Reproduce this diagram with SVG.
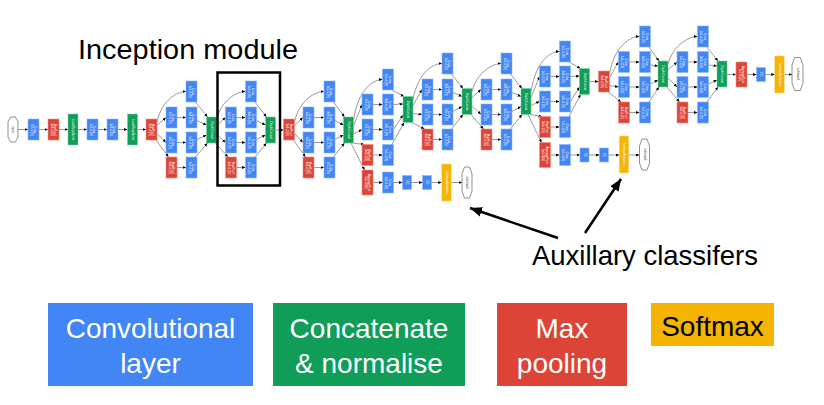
<svg xmlns="http://www.w3.org/2000/svg" width="824" height="405" viewBox="0 0 824 405">
<style>
.conv{fill:#4285F4;stroke:#8AB4F8;stroke-width:0.6}
.pool{fill:#DB4437;stroke:#EE8E85;stroke-width:0.6}
.cat{fill:#0F9D58;stroke:#7BCFA3;stroke-width:0.6}
.sm{fill:#F4B400;stroke:#FADB7F;stroke-width:0.6}
.oct{fill:#fff;stroke:#444;stroke-width:0.6}
.t{font-family:"Liberation Sans",Arial,sans-serif;font-size:3px;fill:#fff;text-anchor:middle}
.tb{font-family:"Liberation Sans",Arial,sans-serif;font-size:3px;fill:#333;text-anchor:middle}
.e{fill:none;stroke:#555;stroke-width:0.6;marker-end:url(#ah)}
.big{fill:none;stroke:#000;stroke-width:2.5;marker-end:url(#bh)}
.lab{font-family:"Liberation Sans",Arial,sans-serif;font-size:28px;fill:#000}
.leg{font-family:"Liberation Sans",Arial,sans-serif;font-size:28px;fill:#fff;text-anchor:middle}
</style>
<defs>
<marker id="ah" markerUnits="userSpaceOnUse" markerWidth="4" markerHeight="4" refX="3.5" refY="1.5" orient="auto"><path d="M0,0 L3.5,1.5 L0,3 z" fill="#000"/></marker>
<marker id="bh" markerUnits="userSpaceOnUse" markerWidth="14" markerHeight="12" refX="12" refY="5" orient="auto"><path d="M0,0 L12,5 L0,10 z" fill="#000"/></marker>
</defs>
<rect width="824" height="405" fill="#fff"/>

<g id="connectors">
<path class="e" d="M18,129.5 L28,129.5"/>
<path class="e" d="M39,129.5 L48,129.5"/>
<path class="e" d="M59,129.5 L68,129.5"/>
<path class="e" d="M78,129.5 L87,129.5"/>
<path class="e" d="M98,129.5 L107,129.5"/>
<path class="e" d="M118,129.5 L127.5,129.5"/>
<path class="e" d="M137.5,129.5 L146,129.5"/>
<path class="e" d="M157,122 C162,99.5 177.5,91.5 186,91.5"/>
<path class="e" d="M157,125.5 L166,117.5"/>
<path class="e" d="M157,133.5 L166,142.5"/>
<path class="e" d="M156,140 L168.5,157"/>
<path class="e" d="M177,117.5 L186,117.5"/>
<path class="e" d="M177,142.5 L186,142.5"/>
<path class="e" d="M177,167.5 L186,167.5"/>
<path class="e" d="M195.5,102 L207.5,117"/>
<path class="e" d="M197,120.5 L206.5,125"/>
<path class="e" d="M197,139.5 L206.5,135"/>
<path class="e" d="M195.5,157 L207.5,143"/>
<path class="e" d="M216.5,120 C221.5,99.5 237,91.5 245.5,91.5"/>
<path class="e" d="M216.5,126 L225.5,117.5"/>
<path class="e" d="M216.5,134 L225.5,142.5"/>
<path class="e" d="M215.5,143 L228,157"/>
<path class="e" d="M236.5,117.5 L245.5,117.5"/>
<path class="e" d="M236.5,142.5 L245.5,142.5"/>
<path class="e" d="M236.5,167.5 L245.5,167.5"/>
<path class="e" d="M255,102 L266.5,117"/>
<path class="e" d="M256.5,120.5 L265.5,125"/>
<path class="e" d="M256.5,139.5 L265.5,135"/>
<path class="e" d="M255,157 L266.5,143"/>
<path class="e" d="M275.5,130 L283.5,130"/>
<path class="e" d="M294.5,122 C299.5,99.5 315.5,91.5 324,91.5"/>
<path class="e" d="M294.5,125.5 L303,117.5"/>
<path class="e" d="M294.5,133.5 L303,142.5"/>
<path class="e" d="M293.5,140 L305.5,157"/>
<path class="e" d="M314,117.5 L324,117.5"/>
<path class="e" d="M314,142.5 L324,142.5"/>
<path class="e" d="M314,167.5 L324,167.5"/>
<path class="e" d="M333.5,102 L344.5,117"/>
<path class="e" d="M335,120.5 L343.5,125"/>
<path class="e" d="M335,139.5 L343.5,135"/>
<path class="e" d="M333.5,157 L344.5,143"/>
<path class="e" d="M353.5,120 C358.5,88 374,79.5 382.5,79.5"/>
<path class="e" d="M353.5,126 L362,104.5"/>
<path class="e" d="M353.5,134 L362,129.5"/>
<path class="e" d="M352.5,143 L364.5,144.5"/>
<path class="e" d="M373,104.5 L382.5,104.5"/>
<path class="e" d="M373,129.5 L382.5,129.5"/>
<path class="e" d="M373,155 L382.5,155"/>
<path class="e" d="M392,90 L404,96.5"/>
<path class="e" d="M393.5,104.5 L403,104"/>
<path class="e" d="M393.5,129.5 L403,115"/>
<path class="e" d="M392,144.5 L404,122.5"/>
<path class="e" d="M351,143 L364.5,170"/>
<path class="e" d="M373,182.5 L382.5,182.5"/>
<path class="e" d="M393.5,182.5 L402.5,182.5"/>
<path class="e" d="M411.5,182.5 L422.5,182.5"/>
<path class="e" d="M431.5,182.5 L441.75,182.5"/>
<path class="e" d="M451.25,182.5 L462,182.5"/>
<path class="e" d="M413,99.5 C418,72 433.5,63.5 442,63.5"/>
<path class="e" d="M413,105.5 L422,89.5"/>
<path class="e" d="M413,113.5 L422,114.5"/>
<path class="e" d="M412,122.5 L424.5,129"/>
<path class="e" d="M433,89.5 L442,89.5"/>
<path class="e" d="M433,114.5 L442,114.5"/>
<path class="e" d="M433,139.5 L442,139.5"/>
<path class="e" d="M451.5,74 L463,88.5"/>
<path class="e" d="M453,92.5 L462,96.5"/>
<path class="e" d="M453,111.5 L462,106.5"/>
<path class="e" d="M451.5,129 L463,114.5"/>
<path class="e" d="M472,91.5 C477,72 492.5,63.5 501,63.5"/>
<path class="e" d="M472,97.5 L481,89.5"/>
<path class="e" d="M472,105.5 L481,114.5"/>
<path class="e" d="M471,114.5 L483.5,129"/>
<path class="e" d="M492,89.5 L501,89.5"/>
<path class="e" d="M492,114.5 L501,114.5"/>
<path class="e" d="M492,139.5 L501,139.5"/>
<path class="e" d="M510.5,74 L522,88.5"/>
<path class="e" d="M512,92.5 L521,96.5"/>
<path class="e" d="M512,111.5 L521,106.5"/>
<path class="e" d="M510.5,129 L522,114.5"/>
<path class="e" d="M531,91.5 C536,60 551,51.5 559.5,51.5"/>
<path class="e" d="M531,97.5 L539.5,76.5"/>
<path class="e" d="M531,105.5 L539.5,101.5"/>
<path class="e" d="M530,114.5 L542,116.5"/>
<path class="e" d="M550.5,76.5 L559.5,76.5"/>
<path class="e" d="M550.5,101.5 L559.5,101.5"/>
<path class="e" d="M550.5,127 L559.5,127"/>
<path class="e" d="M569,62 L580.5,68.5"/>
<path class="e" d="M570.5,76.5 L579.5,76"/>
<path class="e" d="M570.5,101.5 L579.5,87"/>
<path class="e" d="M569,116.5 L580.5,94.5"/>
<path class="e" d="M528,114.5 L541.5,142.5"/>
<path class="e" d="M550.5,155 L559.5,155"/>
<path class="e" d="M570.5,155 L580,155"/>
<path class="e" d="M589,155 L599.5,155"/>
<path class="e" d="M608.5,155 L619.25,155"/>
<path class="e" d="M628.75,155 L639.5,155"/>
<path class="e" d="M589.5,81.5 L598.5,81.5"/>
<path class="e" d="M609.5,74 C614.5,45 631,36.5 639.5,36.5"/>
<path class="e" d="M609.5,77.5 L618.5,62"/>
<path class="e" d="M609.5,85.5 L618.5,87"/>
<path class="e" d="M608.5,92 L621,102"/>
<path class="e" d="M629.5,62 L639.5,62"/>
<path class="e" d="M629.5,87 L639.5,87"/>
<path class="e" d="M629.5,112.5 L639.5,112.5"/>
<path class="e" d="M649,47 L659,61"/>
<path class="e" d="M650.5,65 L658,66"/>
<path class="e" d="M650.5,84 L658,80"/>
<path class="e" d="M649,102 L659,87"/>
<path class="e" d="M668,64 C673,45 689,36.5 697.5,36.5"/>
<path class="e" d="M668,70 L677,62"/>
<path class="e" d="M668,78 L677,87"/>
<path class="e" d="M667,87 L679.5,102"/>
<path class="e" d="M688,62 L697.5,62"/>
<path class="e" d="M688,87 L697.5,87"/>
<path class="e" d="M688,112.5 L697.5,112.5"/>
<path class="e" d="M707,47 L718,61"/>
<path class="e" d="M708.5,65 L717,66"/>
<path class="e" d="M708.5,84 L717,80"/>
<path class="e" d="M707,102 L718,87"/>
<path class="e" d="M727,74.5 L736,74.5"/>
<path class="e" d="M747,74.5 L756.5,74.5"/>
<path class="e" d="M765.5,74.5 L774.75,74.5"/>
<path class="e" d="M784.25,74.5 L792,74.5"/>
<path class="big" d="M558,238 L470,208"/>
<path class="big" d="M585,233 L621,179"/>
</g>

<g id="input"><polygon class="oct" points="10.5,117 15.5,117 18,122 18,137 15.5,142 10.5,142 8,137 8,122"/><text class="tb" transform="translate(13,129.5) rotate(90)" y="1">input</text></g>
<g id="conv1"><rect class="conv" x="28" y="119" width="11" height="21"/><text class="t" transform="translate(33.5,129.5) rotate(90)"><tspan x="0" y="-0.6">Conv</tspan><tspan x="0" y="2.8">7x7+2(S)</tspan></text></g>
<g id="pool1"><rect class="pool" x="48" y="119" width="11" height="21"/><text class="t" transform="translate(53.5,129.5) rotate(90)"><tspan x="0" y="-0.6">MaxPool</tspan><tspan x="0" y="2.8">3x3+2(S)</tspan></text></g>
<g id="lrn1"><rect class="cat" x="68" y="114" width="10" height="31"/><text class="t" transform="translate(73,129.5) rotate(90)" y="1">LocalRespNorm</text></g>
<g id="conv2a"><rect class="conv" x="87" y="119" width="11" height="21"/><text class="t" transform="translate(92.5,129.5) rotate(90)"><tspan x="0" y="-0.6">Conv</tspan><tspan x="0" y="2.8">1x1+1(V)</tspan></text></g>
<g id="conv2b"><rect class="conv" x="107" y="119" width="11" height="21"/><text class="t" transform="translate(112.5,129.5) rotate(90)"><tspan x="0" y="-0.6">Conv</tspan><tspan x="0" y="2.8">3x3+1(S)</tspan></text></g>
<g id="lrn2"><rect class="cat" x="127.5" y="114" width="10" height="31"/><text class="t" transform="translate(132.5,129.5) rotate(90)" y="1">LocalRespNorm</text></g>
<g id="pool2"><rect class="pool" x="146" y="119" width="11" height="21"/><text class="t" transform="translate(151.5,129.5) rotate(90)"><tspan x="0" y="-0.6">MaxPool</tspan><tspan x="0" y="2.8">3x3+2(S)</tspan></text></g>

<g id="i3a_1x1"><rect class="conv" x="186" y="81" width="11" height="21"/><text class="t" transform="translate(191.5,91.5) rotate(90)"><tspan x="0" y="-0.6">Conv</tspan><tspan x="0" y="2.8">1x1+1(S)</tspan></text></g>
<g id="i3a_3r"><rect class="conv" x="166" y="107" width="11" height="21"/><text class="t" transform="translate(171.5,117.5) rotate(90)"><tspan x="0" y="-0.6">Conv</tspan><tspan x="0" y="2.8">1x1+1(S)</tspan></text></g>
<g id="i3a_3"><rect class="conv" x="186" y="107" width="11" height="21"/><text class="t" transform="translate(191.5,117.5) rotate(90)"><tspan x="0" y="-0.6">Conv</tspan><tspan x="0" y="2.8">3x3+1(S)</tspan></text></g>
<g id="i3a_5r"><rect class="conv" x="166" y="132" width="11" height="21"/><text class="t" transform="translate(171.5,142.5) rotate(90)"><tspan x="0" y="-0.6">Conv</tspan><tspan x="0" y="2.8">1x1+1(S)</tspan></text></g>
<g id="i3a_5"><rect class="conv" x="186" y="132" width="11" height="21"/><text class="t" transform="translate(191.5,142.5) rotate(90)"><tspan x="0" y="-0.6">Conv</tspan><tspan x="0" y="2.8">5x5+1(S)</tspan></text></g>
<g id="i3a_pool"><rect class="pool" x="166" y="157" width="11" height="21"/><text class="t" transform="translate(171.5,167.5) rotate(90)"><tspan x="0" y="-0.6">MaxPool</tspan><tspan x="0" y="2.8">3x3+1(S)</tspan></text></g>
<g id="i3a_pp"><rect class="conv" x="186" y="157" width="11" height="21"/><text class="t" transform="translate(191.5,167.5) rotate(90)"><tspan x="0" y="-0.6">Conv</tspan><tspan x="0" y="2.8">1x1+1(S)</tspan></text></g>
<g id="i3a_cat"><rect class="cat" x="206.5" y="117" width="10" height="26"/><text class="t" transform="translate(211.5,130) rotate(90)" y="1">DepthConcat</text></g>

<g id="i3b_1x1"><rect class="conv" x="245.5" y="81" width="11" height="21"/><text class="t" transform="translate(251,91.5) rotate(90)"><tspan x="0" y="-0.6">Conv</tspan><tspan x="0" y="2.8">1x1+1(S)</tspan></text></g>
<g id="i3b_3r"><rect class="conv" x="225.5" y="107" width="11" height="21"/><text class="t" transform="translate(231,117.5) rotate(90)"><tspan x="0" y="-0.6">Conv</tspan><tspan x="0" y="2.8">1x1+1(S)</tspan></text></g>
<g id="i3b_3"><rect class="conv" x="245.5" y="107" width="11" height="21"/><text class="t" transform="translate(251,117.5) rotate(90)"><tspan x="0" y="-0.6">Conv</tspan><tspan x="0" y="2.8">3x3+1(S)</tspan></text></g>
<g id="i3b_5r"><rect class="conv" x="225.5" y="132" width="11" height="21"/><text class="t" transform="translate(231,142.5) rotate(90)"><tspan x="0" y="-0.6">Conv</tspan><tspan x="0" y="2.8">1x1+1(S)</tspan></text></g>
<g id="i3b_5"><rect class="conv" x="245.5" y="132" width="11" height="21"/><text class="t" transform="translate(251,142.5) rotate(90)"><tspan x="0" y="-0.6">Conv</tspan><tspan x="0" y="2.8">5x5+1(S)</tspan></text></g>
<g id="i3b_pool"><rect class="pool" x="225.5" y="157" width="11" height="21"/><text class="t" transform="translate(231,167.5) rotate(90)"><tspan x="0" y="-0.6">MaxPool</tspan><tspan x="0" y="2.8">3x3+1(S)</tspan></text></g>
<g id="i3b_pp"><rect class="conv" x="245.5" y="157" width="11" height="21"/><text class="t" transform="translate(251,167.5) rotate(90)"><tspan x="0" y="-0.6">Conv</tspan><tspan x="0" y="2.8">1x1+1(S)</tspan></text></g>
<g id="i3b_cat"><rect class="cat" x="265.5" y="117" width="10" height="26"/><text class="t" transform="translate(270.5,130) rotate(90)" y="1">DepthConcat</text></g>
<g id="pool3"><rect class="pool" x="283.5" y="119" width="11" height="21"/><text class="t" transform="translate(289,129.5) rotate(90)"><tspan x="0" y="-0.6">MaxPool</tspan><tspan x="0" y="2.8">3x3+2(S)</tspan></text></g>

<g id="i4a_1x1"><rect class="conv" x="324" y="81" width="11" height="21"/><text class="t" transform="translate(329.5,91.5) rotate(90)"><tspan x="0" y="-0.6">Conv</tspan><tspan x="0" y="2.8">1x1+1(S)</tspan></text></g>
<g id="i4a_3r"><rect class="conv" x="303" y="107" width="11" height="21"/><text class="t" transform="translate(308.5,117.5) rotate(90)"><tspan x="0" y="-0.6">Conv</tspan><tspan x="0" y="2.8">1x1+1(S)</tspan></text></g>
<g id="i4a_3"><rect class="conv" x="324" y="107" width="11" height="21"/><text class="t" transform="translate(329.5,117.5) rotate(90)"><tspan x="0" y="-0.6">Conv</tspan><tspan x="0" y="2.8">3x3+1(S)</tspan></text></g>
<g id="i4a_5r"><rect class="conv" x="303" y="132" width="11" height="21"/><text class="t" transform="translate(308.5,142.5) rotate(90)"><tspan x="0" y="-0.6">Conv</tspan><tspan x="0" y="2.8">1x1+1(S)</tspan></text></g>
<g id="i4a_5"><rect class="conv" x="324" y="132" width="11" height="21"/><text class="t" transform="translate(329.5,142.5) rotate(90)"><tspan x="0" y="-0.6">Conv</tspan><tspan x="0" y="2.8">5x5+1(S)</tspan></text></g>
<g id="i4a_pool"><rect class="pool" x="303" y="157" width="11" height="21"/><text class="t" transform="translate(308.5,167.5) rotate(90)"><tspan x="0" y="-0.6">MaxPool</tspan><tspan x="0" y="2.8">3x3+1(S)</tspan></text></g>
<g id="i4a_pp"><rect class="conv" x="324" y="157" width="11" height="21"/><text class="t" transform="translate(329.5,167.5) rotate(90)"><tspan x="0" y="-0.6">Conv</tspan><tspan x="0" y="2.8">1x1+1(S)</tspan></text></g>
<g id="i4a_cat"><rect class="cat" x="343.5" y="117" width="10" height="26"/><text class="t" transform="translate(348.5,130) rotate(90)" y="1">DepthConcat</text></g>

<g id="i4b_1x1"><rect class="conv" x="382.5" y="69" width="11" height="21"/><text class="t" transform="translate(388,79.5) rotate(90)"><tspan x="0" y="-0.6">Conv</tspan><tspan x="0" y="2.8">1x1+1(S)</tspan></text></g>
<g id="i4b_3r"><rect class="conv" x="362" y="94" width="11" height="21"/><text class="t" transform="translate(367.5,104.5) rotate(90)"><tspan x="0" y="-0.6">Conv</tspan><tspan x="0" y="2.8">1x1+1(S)</tspan></text></g>
<g id="i4b_3"><rect class="conv" x="382.5" y="94" width="11" height="21"/><text class="t" transform="translate(388,104.5) rotate(90)"><tspan x="0" y="-0.6">Conv</tspan><tspan x="0" y="2.8">3x3+1(S)</tspan></text></g>
<g id="i4b_5r"><rect class="conv" x="362" y="119" width="11" height="21"/><text class="t" transform="translate(367.5,129.5) rotate(90)"><tspan x="0" y="-0.6">Conv</tspan><tspan x="0" y="2.8">1x1+1(S)</tspan></text></g>
<g id="i4b_5"><rect class="conv" x="382.5" y="119" width="11" height="21"/><text class="t" transform="translate(388,129.5) rotate(90)"><tspan x="0" y="-0.6">Conv</tspan><tspan x="0" y="2.8">5x5+1(S)</tspan></text></g>
<g id="i4b_pool"><rect class="pool" x="362" y="144.5" width="11" height="21"/><text class="t" transform="translate(367.5,155) rotate(90)"><tspan x="0" y="-0.6">MaxPool</tspan><tspan x="0" y="2.8">3x3+1(S)</tspan></text></g>
<g id="i4b_pp"><rect class="conv" x="382.5" y="144.5" width="11" height="21"/><text class="t" transform="translate(388,155) rotate(90)"><tspan x="0" y="-0.6">Conv</tspan><tspan x="0" y="2.8">1x1+1(S)</tspan></text></g>
<g id="i4b_cat"><rect class="cat" x="403" y="96.5" width="10" height="26"/><text class="t" transform="translate(408,109.5) rotate(90)" y="1">DepthConcat</text></g>

<g id="aux1_pool"><rect class="pool" x="362" y="170" width="11" height="25"/><text class="t" transform="translate(367.5,182.5) rotate(90)"><tspan x="0" y="-0.6">AveragePool</tspan><tspan x="0" y="2.8">5x5+3(V)</tspan></text></g>
<g id="aux1_conv"><rect class="conv" x="382.5" y="172" width="11" height="21"/><text class="t" transform="translate(388,182.5) rotate(90)"><tspan x="0" y="-0.6">Conv</tspan><tspan x="0" y="2.8">1x1+1(S)</tspan></text></g>
<g id="aux1_fc1"><rect class="conv" x="402.5" y="175.5" width="9" height="14"/><text class="t" transform="translate(407,182.5) rotate(90)" y="1">FC</text></g>
<g id="aux1_fc2"><rect class="conv" x="422.5" y="175.5" width="9" height="14"/><text class="t" transform="translate(427,182.5) rotate(90)" y="1">FC</text></g>
<g id="aux1_sm"><rect class="sm" x="441.75" y="164" width="9.5" height="37"/><text class="t" transform="translate(446.5,182.5) rotate(90)" y="1">SoftmaxActivation</text></g>
<g id="softmax0"><polygon class="oct" points="464.5,167 469.5,167 472,174 472,191 469.5,198 464.5,198 462,191 462,174"/><text class="tb" transform="translate(467,182.5) rotate(90)" y="1">softmax0</text></g>

<g id="i4c_1x1"><rect class="conv" x="442" y="53" width="11" height="21"/><text class="t" transform="translate(447.5,63.5) rotate(90)"><tspan x="0" y="-0.6">Conv</tspan><tspan x="0" y="2.8">1x1+1(S)</tspan></text></g>
<g id="i4c_3r"><rect class="conv" x="422" y="79" width="11" height="21"/><text class="t" transform="translate(427.5,89.5) rotate(90)"><tspan x="0" y="-0.6">Conv</tspan><tspan x="0" y="2.8">1x1+1(S)</tspan></text></g>
<g id="i4c_3"><rect class="conv" x="442" y="79" width="11" height="21"/><text class="t" transform="translate(447.5,89.5) rotate(90)"><tspan x="0" y="-0.6">Conv</tspan><tspan x="0" y="2.8">3x3+1(S)</tspan></text></g>
<g id="i4c_5r"><rect class="conv" x="422" y="104" width="11" height="21"/><text class="t" transform="translate(427.5,114.5) rotate(90)"><tspan x="0" y="-0.6">Conv</tspan><tspan x="0" y="2.8">1x1+1(S)</tspan></text></g>
<g id="i4c_5"><rect class="conv" x="442" y="104" width="11" height="21"/><text class="t" transform="translate(447.5,114.5) rotate(90)"><tspan x="0" y="-0.6">Conv</tspan><tspan x="0" y="2.8">5x5+1(S)</tspan></text></g>
<g id="i4c_pool"><rect class="pool" x="422" y="129" width="11" height="21"/><text class="t" transform="translate(427.5,139.5) rotate(90)"><tspan x="0" y="-0.6">MaxPool</tspan><tspan x="0" y="2.8">3x3+1(S)</tspan></text></g>
<g id="i4c_pp"><rect class="conv" x="442" y="129" width="11" height="21"/><text class="t" transform="translate(447.5,139.5) rotate(90)"><tspan x="0" y="-0.6">Conv</tspan><tspan x="0" y="2.8">1x1+1(S)</tspan></text></g>
<g id="i4c_cat"><rect class="cat" x="462" y="88.5" width="10" height="26"/><text class="t" transform="translate(467,101.5) rotate(90)" y="1">DepthConcat</text></g>

<g id="i4d_1x1"><rect class="conv" x="501" y="53" width="11" height="21"/><text class="t" transform="translate(506.5,63.5) rotate(90)"><tspan x="0" y="-0.6">Conv</tspan><tspan x="0" y="2.8">1x1+1(S)</tspan></text></g>
<g id="i4d_3r"><rect class="conv" x="481" y="79" width="11" height="21"/><text class="t" transform="translate(486.5,89.5) rotate(90)"><tspan x="0" y="-0.6">Conv</tspan><tspan x="0" y="2.8">1x1+1(S)</tspan></text></g>
<g id="i4d_3"><rect class="conv" x="501" y="79" width="11" height="21"/><text class="t" transform="translate(506.5,89.5) rotate(90)"><tspan x="0" y="-0.6">Conv</tspan><tspan x="0" y="2.8">3x3+1(S)</tspan></text></g>
<g id="i4d_5r"><rect class="conv" x="481" y="104" width="11" height="21"/><text class="t" transform="translate(486.5,114.5) rotate(90)"><tspan x="0" y="-0.6">Conv</tspan><tspan x="0" y="2.8">1x1+1(S)</tspan></text></g>
<g id="i4d_5"><rect class="conv" x="501" y="104" width="11" height="21"/><text class="t" transform="translate(506.5,114.5) rotate(90)"><tspan x="0" y="-0.6">Conv</tspan><tspan x="0" y="2.8">5x5+1(S)</tspan></text></g>
<g id="i4d_pool"><rect class="pool" x="481" y="129" width="11" height="21"/><text class="t" transform="translate(486.5,139.5) rotate(90)"><tspan x="0" y="-0.6">MaxPool</tspan><tspan x="0" y="2.8">3x3+1(S)</tspan></text></g>
<g id="i4d_pp"><rect class="conv" x="501" y="129" width="11" height="21"/><text class="t" transform="translate(506.5,139.5) rotate(90)"><tspan x="0" y="-0.6">Conv</tspan><tspan x="0" y="2.8">1x1+1(S)</tspan></text></g>
<g id="i4d_cat"><rect class="cat" x="521" y="88.5" width="10" height="26"/><text class="t" transform="translate(526,101.5) rotate(90)" y="1">DepthConcat</text></g>

<g id="i4e_1x1"><rect class="conv" x="559.5" y="41" width="11" height="21"/><text class="t" transform="translate(565,51.5) rotate(90)"><tspan x="0" y="-0.6">Conv</tspan><tspan x="0" y="2.8">1x1+1(S)</tspan></text></g>
<g id="i4e_3r"><rect class="conv" x="539.5" y="66" width="11" height="21"/><text class="t" transform="translate(545,76.5) rotate(90)"><tspan x="0" y="-0.6">Conv</tspan><tspan x="0" y="2.8">1x1+1(S)</tspan></text></g>
<g id="i4e_3"><rect class="conv" x="559.5" y="66" width="11" height="21"/><text class="t" transform="translate(565,76.5) rotate(90)"><tspan x="0" y="-0.6">Conv</tspan><tspan x="0" y="2.8">3x3+1(S)</tspan></text></g>
<g id="i4e_5r"><rect class="conv" x="539.5" y="91" width="11" height="21"/><text class="t" transform="translate(545,101.5) rotate(90)"><tspan x="0" y="-0.6">Conv</tspan><tspan x="0" y="2.8">1x1+1(S)</tspan></text></g>
<g id="i4e_5"><rect class="conv" x="559.5" y="91" width="11" height="21"/><text class="t" transform="translate(565,101.5) rotate(90)"><tspan x="0" y="-0.6">Conv</tspan><tspan x="0" y="2.8">5x5+1(S)</tspan></text></g>
<g id="i4e_pool"><rect class="pool" x="539.5" y="116.5" width="11" height="21"/><text class="t" transform="translate(545,127) rotate(90)"><tspan x="0" y="-0.6">MaxPool</tspan><tspan x="0" y="2.8">3x3+1(S)</tspan></text></g>
<g id="i4e_pp"><rect class="conv" x="559.5" y="116.5" width="11" height="21"/><text class="t" transform="translate(565,127) rotate(90)"><tspan x="0" y="-0.6">Conv</tspan><tspan x="0" y="2.8">1x1+1(S)</tspan></text></g>
<g id="i4e_cat"><rect class="cat" x="579.5" y="68.5" width="10" height="26"/><text class="t" transform="translate(584.5,81.5) rotate(90)" y="1">DepthConcat</text></g>

<g id="aux2_pool"><rect class="pool" x="539.5" y="142.5" width="11" height="25"/><text class="t" transform="translate(545,155) rotate(90)"><tspan x="0" y="-0.6">AveragePool</tspan><tspan x="0" y="2.8">5x5+3(V)</tspan></text></g>
<g id="aux2_conv"><rect class="conv" x="559.5" y="144.5" width="11" height="21"/><text class="t" transform="translate(565,155) rotate(90)"><tspan x="0" y="-0.6">Conv</tspan><tspan x="0" y="2.8">1x1+1(S)</tspan></text></g>
<g id="aux2_fc1"><rect class="conv" x="580" y="148" width="9" height="14"/><text class="t" transform="translate(584.5,155) rotate(90)" y="1">FC</text></g>
<g id="aux2_fc2"><rect class="conv" x="599.5" y="148" width="9" height="14"/><text class="t" transform="translate(604,155) rotate(90)" y="1">FC</text></g>
<g id="aux2_sm"><rect class="sm" x="619.25" y="136" width="9.5" height="37"/><text class="t" transform="translate(624,154.5) rotate(90)" y="1">SoftmaxActivation</text></g>
<g id="softmax1"><polygon class="oct" points="642,139 647,139 649.5,146 649.5,163 647,170 642,170 639.5,163 639.5,146"/><text class="tb" transform="translate(644.5,154.5) rotate(90)" y="1">softmax1</text></g>

<g id="pool4"><rect class="pool" x="598.5" y="71" width="11" height="21"/><text class="t" transform="translate(604,81.5) rotate(90)"><tspan x="0" y="-0.6">MaxPool</tspan><tspan x="0" y="2.8">3x3+2(S)</tspan></text></g>

<g id="i5a_1x1"><rect class="conv" x="639.5" y="26" width="11" height="21"/><text class="t" transform="translate(645,36.5) rotate(90)"><tspan x="0" y="-0.6">Conv</tspan><tspan x="0" y="2.8">1x1+1(S)</tspan></text></g>
<g id="i5a_3r"><rect class="conv" x="618.5" y="51.5" width="11" height="21"/><text class="t" transform="translate(624,62) rotate(90)"><tspan x="0" y="-0.6">Conv</tspan><tspan x="0" y="2.8">1x1+1(S)</tspan></text></g>
<g id="i5a_3"><rect class="conv" x="639.5" y="51.5" width="11" height="21"/><text class="t" transform="translate(645,62) rotate(90)"><tspan x="0" y="-0.6">Conv</tspan><tspan x="0" y="2.8">3x3+1(S)</tspan></text></g>
<g id="i5a_5r"><rect class="conv" x="618.5" y="76.5" width="11" height="21"/><text class="t" transform="translate(624,87) rotate(90)"><tspan x="0" y="-0.6">Conv</tspan><tspan x="0" y="2.8">1x1+1(S)</tspan></text></g>
<g id="i5a_5"><rect class="conv" x="639.5" y="76.5" width="11" height="21"/><text class="t" transform="translate(645,87) rotate(90)"><tspan x="0" y="-0.6">Conv</tspan><tspan x="0" y="2.8">5x5+1(S)</tspan></text></g>
<g id="i5a_pool"><rect class="pool" x="618.5" y="102" width="11" height="21"/><text class="t" transform="translate(624,112.5) rotate(90)"><tspan x="0" y="-0.6">MaxPool</tspan><tspan x="0" y="2.8">3x3+1(S)</tspan></text></g>
<g id="i5a_pp"><rect class="conv" x="639.5" y="102" width="11" height="21"/><text class="t" transform="translate(645,112.5) rotate(90)"><tspan x="0" y="-0.6">Conv</tspan><tspan x="0" y="2.8">1x1+1(S)</tspan></text></g>
<g id="i5a_cat"><rect class="cat" x="658" y="61" width="10" height="26"/><text class="t" transform="translate(663,74) rotate(90)" y="1">DepthConcat</text></g>

<g id="i5b_1x1"><rect class="conv" x="697.5" y="26" width="11" height="21"/><text class="t" transform="translate(703,36.5) rotate(90)"><tspan x="0" y="-0.6">Conv</tspan><tspan x="0" y="2.8">1x1+1(S)</tspan></text></g>
<g id="i5b_3r"><rect class="conv" x="677" y="51.5" width="11" height="21"/><text class="t" transform="translate(682.5,62) rotate(90)"><tspan x="0" y="-0.6">Conv</tspan><tspan x="0" y="2.8">1x1+1(S)</tspan></text></g>
<g id="i5b_3"><rect class="conv" x="697.5" y="51.5" width="11" height="21"/><text class="t" transform="translate(703,62) rotate(90)"><tspan x="0" y="-0.6">Conv</tspan><tspan x="0" y="2.8">3x3+1(S)</tspan></text></g>
<g id="i5b_5r"><rect class="conv" x="677" y="76.5" width="11" height="21"/><text class="t" transform="translate(682.5,87) rotate(90)"><tspan x="0" y="-0.6">Conv</tspan><tspan x="0" y="2.8">1x1+1(S)</tspan></text></g>
<g id="i5b_5"><rect class="conv" x="697.5" y="76.5" width="11" height="21"/><text class="t" transform="translate(703,87) rotate(90)"><tspan x="0" y="-0.6">Conv</tspan><tspan x="0" y="2.8">5x5+1(S)</tspan></text></g>
<g id="i5b_pool"><rect class="pool" x="677" y="102" width="11" height="21"/><text class="t" transform="translate(682.5,112.5) rotate(90)"><tspan x="0" y="-0.6">MaxPool</tspan><tspan x="0" y="2.8">3x3+1(S)</tspan></text></g>
<g id="i5b_pp"><rect class="conv" x="697.5" y="102" width="11" height="21"/><text class="t" transform="translate(703,112.5) rotate(90)"><tspan x="0" y="-0.6">Conv</tspan><tspan x="0" y="2.8">1x1+1(S)</tspan></text></g>
<g id="i5b_cat"><rect class="cat" x="717" y="61" width="10" height="26"/><text class="t" transform="translate(722,74) rotate(90)" y="1">DepthConcat</text></g>

<g id="avgpool"><rect class="pool" x="736" y="62" width="11" height="25"/><text class="t" transform="translate(741.5,74.5) rotate(90)"><tspan x="0" y="-0.6">AveragePool</tspan><tspan x="0" y="2.8">7x7+1(V)</tspan></text></g>
<g id="fc"><rect class="conv" x="756.5" y="67.5" width="9" height="14"/><text class="t" transform="translate(761,74.5) rotate(90)" y="1">FC</text></g>
<g id="sm2"><rect class="sm" x="774.75" y="56" width="9.5" height="37"/><text class="t" transform="translate(779.5,74.5) rotate(90)" y="1">SoftmaxActivation</text></g>
<g id="softmax2"><polygon class="oct" points="794.75,57.5 800.25,57.5 803,65 803,83 800.25,90.5 794.75,90.5 792,83 792,65"/><text class="tb" transform="translate(797.5,74) rotate(90)" y="1">softmax2</text></g>

<g id="inception_box"><rect x="217.5" y="72.5" width="62.5" height="113" fill="none" stroke="#000" stroke-width="2.5"/></g>
<g id="title"><text class="lab" x="78" y="59" textLength="220" lengthAdjust="spacingAndGlyphs">Inception module</text></g>
<g id="aux_label"><text class="lab" x="532" y="265" textLength="226" lengthAdjust="spacingAndGlyphs">Auxillary classifers</text></g>

<g id="legend_conv"><rect x="48" y="303" width="205" height="83" fill="#4285F4"/><text class="leg" x="150.5" y="338">Convolutional</text><text class="leg" x="150.5" y="373">layer</text></g>
<g id="legend_cat"><rect x="273" y="303" width="192" height="83" fill="#0F9D58"/><text class="leg" x="369" y="338">Concatenate</text><text class="leg" x="369" y="373">&amp; normalise</text></g>
<g id="legend_pool"><rect x="497" y="303" width="130" height="83" fill="#DB4437"/><text class="leg" x="562" y="338">Max</text><text class="leg" x="562" y="373">pooling</text></g>
<g id="legend_sm"><rect x="651" y="303" width="123" height="43" fill="#F4B400"/><text class="leg" x="712.5" y="336" style="fill:#000">Softmax</text></g>
</svg>
